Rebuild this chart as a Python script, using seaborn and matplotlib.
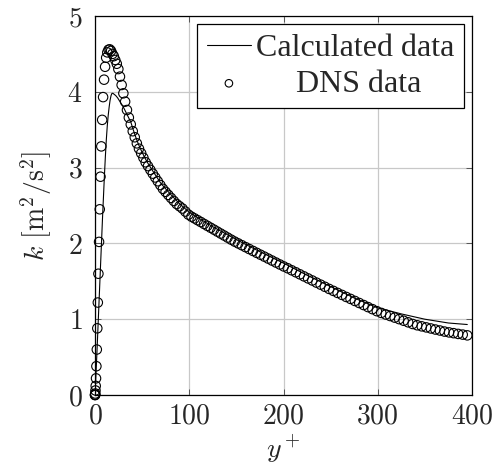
import matplotlib
matplotlib.use("Agg")
import matplotlib.pyplot as plt
import seaborn as sns

# DNS data (circles)
dns_yplus = [0.0, 0.03, 0.12, 0.27, 0.48, 0.74, 1.07, 1.46, 1.90, 2.41,
             2.97, 3.59, 4.28, 5.02, 5.82, 6.67, 7.59, 8.57, 9.60, 10.69,
             11.84, 13.04, 14.31, 15.63, 17.01, 18.44, 19.94, 21.49, 23.09, 24.75,
             26.47, 28.24, 30.07, 31.95, 33.89, 35.88, 37.92, 40.02, 42.17, 44.38,
             46.64, 48.95, 51.32, 53.73, 56.20, 58.72, 61.29, 63.91, 66.56, 69.28,
             72.05, 74.86, 77.73, 80.64, 83.60, 86.61, 89.66, 92.76, 95.90, 99.09,
             102.32, 105.60, 108.92, 112.28, 115.69, 119.14, 122.63, 126.16, 129.73, 133.34,
             136.99, 140.69, 144.41, 148.18, 151.98, 155.82, 159.70, 163.61, 167.56, 171.54,
             175.55, 179.60, 183.68, 187.79, 191.93, 196.10, 200.31, 204.54, 208.80, 213.09,
             217.41, 221.75, 226.11, 230.51, 234.92, 239.37, 243.84, 248.33, 252.84, 257.38,
             261.93, 266.50, 271.10, 275.71, 280.34, 284.99, 289.65, 294.33, 299.02, 303.73,
             308.45, 313.19, 317.94, 322.70, 327.47, 332.26, 337.04, 341.84, 346.65, 351.46,
             356.28, 361.11, 365.94, 370.78, 375.62, 380.46, 385.31, 390.16, 395.00]
dns_k = [0.0, 0.0, 0.005, 0.02, 0.06, 0.12, 0.22, 0.38, 0.60, 0.88,
         1.22, 1.60, 2.02, 2.45, 2.88, 3.28, 3.63, 3.93, 4.16, 4.33,
         4.45, 4.52, 4.555, 4.56, 4.54, 4.50, 4.47, 4.42, 4.37, 4.30,
         4.20, 4.09, 3.98, 3.87, 3.76, 3.66, 3.57, 3.48, 3.40, 3.32,
         3.25, 3.19, 3.13, 3.07, 3.02, 2.97, 2.92, 2.87, 2.82, 2.77,
         2.72, 2.68, 2.64, 2.60, 2.56, 2.52, 2.49, 2.46, 2.42, 2.38,
         2.353, 2.330, 2.306, 2.282, 2.257, 2.232, 2.207, 2.182, 2.156, 2.130,
         2.104, 2.077, 2.050, 2.024, 2.000, 1.976, 1.951, 1.926, 1.901, 1.876,
         1.851, 1.826, 1.800, 1.774, 1.748, 1.722, 1.696, 1.672, 1.645, 1.619,
         1.592, 1.565, 1.538, 1.511, 1.483, 1.456, 1.428, 1.400, 1.374, 1.347,
         1.321, 1.294, 1.268, 1.241, 1.214, 1.187, 1.160, 1.133, 1.106, 1.083,
         1.062, 1.042, 1.021, 1.001, 0.980, 0.959, 0.937, 0.920, 0.906, 0.892,
         0.878, 0.864, 0.851, 0.837, 0.826, 0.816, 0.806, 0.797, 0.787]

# calculated profile (solid line)
calc_yplus = [0, 2, 4, 6, 8, 10, 11, 12, 13, 14, 15, 16, 17, 18, 19, 20, 22, 24, 26, 28,
              30, 32, 34, 36, 38, 40, 43, 46, 50, 55, 60, 70, 80, 90, 100, 125, 150, 175,
              200, 225, 250, 275, 300, 325, 350, 375, 395]
calc_k = [0, 0.55, 1.15, 1.75, 2.35, 2.90, 3.15, 3.37, 3.55, 3.69, 3.80, 3.89, 3.95, 3.98,
          3.98, 3.97, 3.95, 3.92, 3.88, 3.84, 3.80, 3.75, 3.70, 3.65, 3.60, 3.52, 3.41,
          3.31, 3.20, 3.08, 2.98, 2.79, 2.65, 2.52, 2.41, 2.22, 2.05, 1.89, 1.74, 1.58,
          1.43, 1.28, 1.15, 1.07, 1.00, 0.95, 0.93]

x_ticks = [0, 100, 200, 300, 400]
y_ticks = [0, 1, 2, 3, 4, 5]

sns.set_style("whitegrid")
plt.rcParams['font.family'] = 'serif'
plt.rcParams['font.serif'] = ['cmr10', 'DejaVu Serif']
plt.rcParams['mathtext.fontset'] = 'cm'
plt.rcParams['axes.formatter.use_mathtext'] = True

fig = plt.figure(figsize=(4.98, 4.72), dpi=100)
ax = fig.add_axes([0.1908, 0.1631, 0.757, 0.803])

sns.lineplot(x=calc_yplus, y=calc_k, ax=ax, color='black', linewidth=0.8,
             label='Calculated data', sort=False, estimator=None, zorder=3)
sns.scatterplot(x=dns_yplus, y=dns_k, ax=ax, marker='o', s=46,
                facecolor='none', edgecolor='black', linewidth=0.8,
                label='     DNS data', zorder=2)
for coll in ax.collections:
    coll.set_clip_on(False)

ax.set_xlim(0, 400)
ax.set_ylim(0, 5)
ax.set_xticks(x_ticks)
ax.set_yticks(y_ticks)
ax.grid(True, color='#c8c8c8', linewidth=0.9)
ax.set_axisbelow(True)
for sp in ax.spines.values():
    sp.set_color('black')
    sp.set_linewidth(0.9)
ax.tick_params(direction='in', length=4, width=0.7, color='#555555',
               top=True, right=True, bottom=True, left=True, labelsize=20)
ax.tick_params(axis='x', pad=6)
ax.tick_params(axis='y', pad=9)

ax.set_xlabel(r'$y^+$', fontsize=20, labelpad=2)
ax.set_ylabel(r'$k\ [\mathrm{m}^2/\mathrm{s}^2]$', fontsize=20, labelpad=10)

leg = ax.legend(loc='upper right', prop={'family': 'Liberation Serif', 'size': 23},
                frameon=True, fancybox=False, framealpha=1, edgecolor='black',
                borderpad=0.3, labelspacing=0.2, handlelength=1.4,
                handletextpad=0.15, borderaxespad=0.25, markerscale=0.8)
leg.get_frame().set_linewidth(0.9)

fig.savefig('out.png', dpi=100)
